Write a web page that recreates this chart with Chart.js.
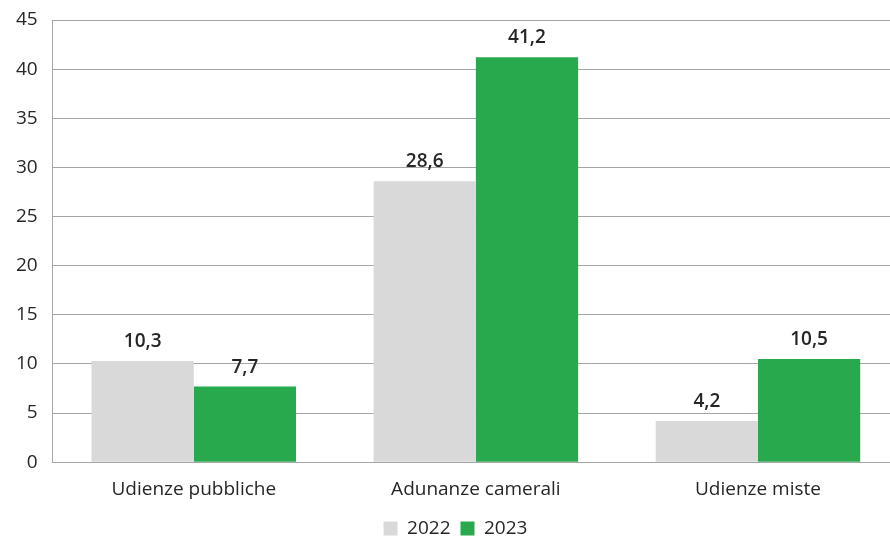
<!DOCTYPE html>
<html>
<head>
<meta charset="utf-8">
<style>
  html, body { margin: 0; padding: 0; background: #fff; overflow: hidden; }
  #wrap { width: 899px; height: 539px; }
</style>
<script src="https://cdn.jsdelivr.net/npm/chart.js@4/dist/chart.umd.min.js"></script>
</head>
<body>
<div id="wrap"><canvas id="chart"></canvas></div>
<script>
// categorie e serie
const categories = ['Udienze pubbliche', 'Adunanze camerali', 'Udienze miste'];
const years = ['2022', '2023'];
const values2022 = [10.3, 28.6, 4.2];
const values2023 = [7.7, 41.2, 10.5];
const yTicks = [0, 5, 10, 15, 20, 25, 30, 35, 40, 45];

const FONT = "'Open Sans', 'Noto Sans', sans-serif";

// etichette sopra le barre, formato italiano
const barLabels = {
  id: 'barLabels',
  afterDatasetsDraw(chart) {
    const ctx = chart.ctx;
    ctx.save();
    ctx.font = `600 19px ${FONT}`;
    ctx.fillStyle = '#262626';
    ctx.textAlign = 'center';
    ctx.textBaseline = 'alphabetic';
    chart.data.datasets.forEach((ds, i) => {
      chart.getDatasetMeta(i).data.forEach((bar, j) => {
        ctx.fillText(ds.data[j].toFixed(1).replace('.', ','), bar.x, bar.y - 14);
      });
    });
    ctx.restore();
  }
};

// legenda un po' più bassa: si riduce l'altezza riservata
const tightLegend = {
  id: 'tightLegend',
  beforeInit(chart) {
    const fit = chart.legend.fit;
    chart.legend.fit = function () {
      fit.call(this);
      this.height -= 9;
    };
  }
};

new Chart(document.getElementById('chart'), {
  type: 'bar',
  data: {
    labels: categories,
    datasets: [
      { label: years[0], data: values2022, backgroundColor: '#d9d9d9' },
      { label: years[1], data: values2023, backgroundColor: '#28a94d' }
    ]
  },
  options: {
    responsive: true,
    maintainAspectRatio: false,
    animation: false,
    layout: { padding: { top: 20, right: 0, left: 12, bottom: 0 } },
    datasets: { bar: { categoryPercentage: 0.725, barPercentage: 1.0 } },
    scales: {
      x: {
        grid: { display: false },
        border: { color: '#a6a6a6' },
        ticks: { color: '#262626', font: { family: FONT, size: 19 }, padding: 8 }
      },
      y: {
        min: 0,
        max: 45,
        afterBuildTicks(axis) { axis.ticks = yTicks.map(v => ({ value: v })); },
        grid: { color: '#a6a6a6', tickColor: 'rgba(0,0,0,0)', tickLength: 11 },
        border: { color: '#a6a6a6' },
        ticks: { color: '#262626', font: { family: FONT, size: 19 }, padding: 4 }
      }
    },
    plugins: {
      legend: {
        position: 'bottom',
        labels: {
          color: '#262626',
          font: { family: FONT, size: 19 },
          boxWidth: 14,
          boxHeight: 14,
          padding: 10
        }
      },
      tooltip: { enabled: false }
    }
  },
  plugins: [barLabels, tightLegend]
});
</script>
</body>
</html>
